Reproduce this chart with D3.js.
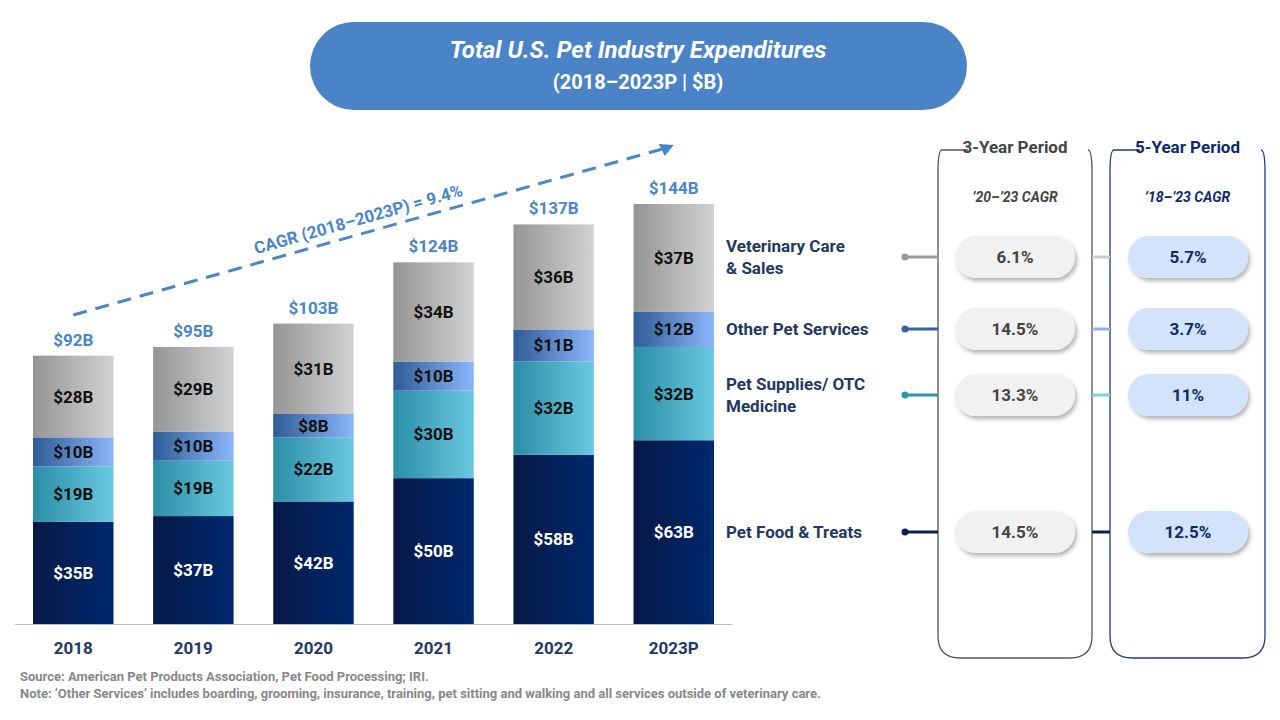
<!DOCTYPE html>
<html><head><meta charset="utf-8">
<script src="https://cdn.jsdelivr.net/npm/d3@7"></script>
<style>body{margin:0;background:#fff;font-family:Roboto,"Noto Sans",sans-serif}</style>
</head><body><svg id="c" width="1280" height="720"></svg>
<script>
const years = ["2018","2019","2020","2021","2022","2023P"];
const food = [35,37,42,50,58,63];
const supplies = [19,19,22,30,32,32];
const other = [10,10,8,10,11,12];
const vet = [28,29,31,34,36,37];
const totals = [92,95,103,124,137,144];
const segNames = ["Veterinary Care\n& Sales","Other Pet Services","Pet Supplies/ OTC\nMedicine","Pet Food & Treats"];
const cagr3 = ["6.1%","14.5%","13.3%","14.5%"];
const cagr5 = ["5.7%","3.7%","11%","12.5%"];

const svg = d3.select("#c");
const defs = svg.append("defs");
const grads = [["gFood","#061845","#00296e"],["gSup","#2a8ea6","#6ac9e0"],["gOth","#2e5c96","#8cb6fa"],["gVet","#959595","#d2d2d2"]];
grads.forEach(g=>{
  const lg = defs.append("linearGradient").attr("id",g[0]);
  lg.append("stop").attr("offset","0%").attr("stop-color",g[1]);
  lg.append("stop").attr("offset","100%").attr("stop-color",g[2]);
});
const sh = defs.append("filter").attr("id","sh").attr("x","-20%").attr("y","-30%").attr("width","150%").attr("height","180%");
sh.append("feDropShadow").attr("dx",2).attr("dy",3).attr("stdDeviation",2).attr("flood-color","#000").attr("flood-opacity",0.3);

// title
svg.append("rect").attr("x",310).attr("y",22).attr("width",657).attr("height",88).attr("rx",44).attr("fill","#4a84c6");
svg.append("text").attr("x",638).attr("y",58).attr("text-anchor","middle").attr("fill","#fff").attr("font-size",24).attr("font-weight","bold").attr("font-style","italic").text("Total U.S. Pet Industry Expenditures");
svg.append("text").attr("x",638).attr("y",89).attr("text-anchor","middle").attr("fill","#fff").attr("font-size",20).attr("font-weight","bold").text("(2018–2023P | $B)");

const x = d3.scaleBand().domain(years).range([15,732]).paddingInner(0.33).paddingOuter(0.15);
const y = d3.scaleLinear().domain([0,144]).range([624,204]);
const stack = d3.stack().keys(["food","supplies","other","vet"]);
const rows = years.map((yr,i)=>({yr,food:food[i],supplies:supplies[i],other:other[i],vet:vet[i]}));
const series = stack(rows);
const fills = ["url(#gFood)","url(#gSup)","url(#gOth)","url(#gVet)"];
series.forEach((s,k)=>{
  const g = svg.append("g");
  g.selectAll("rect").data(s).enter().append("rect")
    .attr("x",d=>x(d.data.yr)).attr("width",x.bandwidth())
    .attr("y",d=>y(d[1])).attr("height",d=>y(d[0])-y(d[1])).attr("fill",fills[k]);
  g.selectAll("text").data(s).enter().append("text")
    .attr("x",d=>x(d.data.yr)+x.bandwidth()/2).attr("y",d=>(y(d[0])+y(d[1]))/2+6)
    .attr("text-anchor","middle").attr("font-size",17).attr("font-weight","bold")
    .attr("fill",k===0?"#fff":"#111").text(d=>"$"+(d[1]-d[0])+"B");
});
svg.append("g").selectAll("text").data(totals).enter().append("text")
  .attr("x",(d,i)=>x(years[i])+x.bandwidth()/2).attr("y",d=>y(d)-10)
  .attr("text-anchor","middle").attr("font-size",17).attr("font-weight","bold").attr("fill","#4a86c8").text(d=>"$"+d+"B");
svg.append("line").attr("x1",15).attr("x2",732).attr("y1",624.5).attr("y2",624.5).attr("stroke","#bbb");
svg.append("g").selectAll("text").data(years).enter().append("text")
  .attr("x",d=>x(d)+x.bandwidth()/2).attr("y",654).attr("text-anchor","middle")
  .attr("font-size",17).attr("font-weight","bold").attr("fill","#1f3864").text(d=>d);

// CAGR arrow
const ax1=x("2018")+x.bandwidth()/2, ax2=x("2023P")+x.bandwidth()/2;
svg.append("line").attr("x1",ax1).attr("y1",315).attr("x2",ax2-8).attr("y2",148)
  .attr("stroke","#4a86c8").attr("stroke-width",3).attr("stroke-dasharray","14,9");
svg.append("path").attr("d",`M${ax2},${145} l-15,-1 l6,12 z`).attr("fill","#4a86c8");
const ang = Math.atan2(148-315,ax2-8-ax1)*180/Math.PI;
svg.append("text").attr("transform",`translate(360,225) rotate(${ang})`).attr("text-anchor","middle")
  .attr("font-size",17).attr("font-weight","bold").attr("fill","#4a86c8").text("CAGR (2018–2023P) = 9.4%");

// right panel
const rowY = [257,329,395,532];
const dotCol = ["#999","#2f64a6","#2a96ae","#0a1f52"];
const midCol = ["#ccc","#8ab4f8","#7fd0e0","#0a1f52"];
function box(x0,w,col,title,sub,tcol){
  const r=22,t=150,b=658;
  svg.append("path").attr("d",`M${x0+30},${t} L${x0+4},${t} Q${x0},${t} ${x0},${t+r} L${x0},${b-r} Q${x0},${b} ${x0+r},${b} L${x0+w-r},${b} Q${x0+w},${b} ${x0+w},${b-r} L${x0+w},${t+r} Q${x0+w},${t} ${x0+w-4},${t}`)
    .attr("fill","none").attr("stroke",col).attr("stroke-width",1.3);
  svg.append("text").attr("x",x0+w/2).attr("y",153).attr("text-anchor","middle").attr("font-size",17).attr("font-weight","bold").attr("fill",tcol).text(title);
  svg.append("text").attr("x",x0+w/2).attr("y",202).attr("text-anchor","middle").attr("font-size",14).attr("font-weight","bold").attr("font-style","italic").attr("fill",tcol).text(sub);
}
box(938,154,"#555","3-Year Period","’20–’23 CAGR","#444");
box(1110,155,"#1f3c88","5-Year Period","’18–’23 CAGR","#0d2a6e");
rowY.forEach((cy,i)=>{
  svg.append("line").attr("x1",905).attr("x2",938).attr("y1",cy).attr("y2",cy).attr("stroke",dotCol[i]).attr("stroke-width",3);
  svg.append("circle").attr("cx",905).attr("cy",cy).attr("r",3.5).attr("fill",dotCol[i]);
  svg.append("line").attr("x1",1092).attr("x2",1110).attr("y1",cy).attr("y2",cy).attr("stroke",midCol[i]).attr("stroke-width",3);
  const lines = segNames[i].split("\n");
  lines.forEach((l,j)=>svg.append("text").attr("x",726).attr("y",cy+6+(j-(lines.length-1)/2)*22)
    .attr("font-size",17).attr("font-weight","bold").attr("fill","#1f3864").text(l));
  svg.append("rect").attr("x",955).attr("y",cy-21).attr("width",120).attr("height",42).attr("rx",21).attr("fill","#f1f1f1").attr("filter","url(#sh)");
  svg.append("text").attr("x",1015).attr("y",cy+6).attr("text-anchor","middle").attr("font-size",17).attr("font-weight","bold").attr("fill","#444").text(cagr3[i]);
  svg.append("rect").attr("x",1128).attr("y",cy-21).attr("width",120).attr("height",42).attr("rx",21).attr("fill","#d3e3fb").attr("filter","url(#sh)");
  svg.append("text").attr("x",1188).attr("y",cy+6).attr("text-anchor","middle").attr("font-size",17).attr("font-weight","bold").attr("fill","#0d2a6e").text(cagr5[i]);
});

svg.append("text").attr("x",20).attr("y",681).attr("font-size",13).attr("font-weight","bold").attr("fill","#888").text("Source: American Pet Products Association, Pet Food Processing; IRI.");
svg.append("text").attr("x",20).attr("y",698).attr("font-size",13).attr("font-weight","bold").attr("fill","#888").text("Note: ‘Other Services’ includes boarding, grooming, insurance, training, pet sitting and walking and all services outside of veterinary care.");
</script></body></html>
